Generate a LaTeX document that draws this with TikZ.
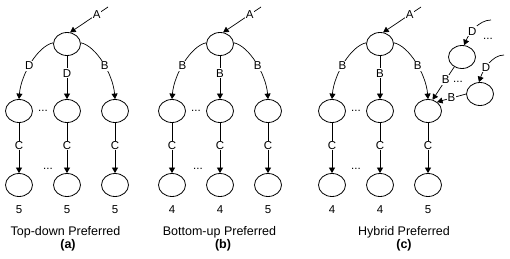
\documentclass[tikz,border=0pt]{standalone}
\usepackage{fontspec}
\setmainfont{Liberation Sans}
\usetikzlibrary{arrows.meta,shapes.geometric}
\begin{document}
\begin{tikzpicture}[x=1pt,y=-1pt,
  st/.style={draw, ellipse, minimum width=27pt, minimum height=23pt, inner sep=0pt, line width=0.8pt},
  lbl/.style={fill=white, inner sep=0.8pt, font=\fontsize{11.5}{12}\selectfont},
  edge/.style={line width=0.7pt, -{Triangle[length=5.5pt,width=6pt]}},
  txt/.style={font=\fontsize{11.5}{12}\selectfont, inner sep=0pt},
  captxt/.style={font=\fontsize{12.5}{14}\selectfont, inner sep=0pt},
  captxtb/.style={font=\fontsize{12.5}{14}\selectfont\bfseries, inner sep=0pt},
]
\useasboundingbox (0,0) rectangle (510,259);
\foreach \p/\dx/\la/\lb/\lc/\na/\nb/\nc/\dd in {a/0/D/D/B/5/5/5/48, b/153/B/B/B/4/4/5/45, c/313/B/B/B/4/4/5/43}{
  \begin{scope}[shift={(\dx,0)}]
    \node[st] (r\p) at (67,44) {};
    \node[st] (ma\p) at (19,111) {};
    \node[st] (mb\p) at (67,111) {};
    \node[st] (mc\p) at (115,111) {};
    \node[st] (ba\p) at (19,185) {};
    \node[st] (bb\p) at (67,185) {};
    \node[st] (bc\p) at (115,185) {};
    \coordinate (as\p) at (108,7);
    \draw[edge] (as\p) -- node[lbl,pos=0.3]{A} (r\p.75);
    \draw[edge] (r\p.175) .. controls +(-15,3) and +(2,-25) .. node[lbl,pos=0.55]{\la} (ma\p.north);
    \draw[edge] (r\p.south) -- node[lbl,pos=0.4]{\lb} (mb\p.north);
    \draw[edge] (r\p.5) .. controls +(15,3) and +(-2,-25) .. node[lbl,pos=0.55]{\lc} (mc\p.north);
    \draw[edge] (ma\p.south) -- node[lbl,pos=0.45]{C} (ba\p.north);
    \draw[edge] (mb\p.south) -- node[lbl,pos=0.45]{C} (bb\p.north);
    \draw[edge] (mc\p.south) -- node[lbl,pos=0.45]{C} (bc\p.north);
    \node[txt] (na\p) at (19,210) {\na};
    \node[txt] (nb\p) at (67,210) {\nb};
    \node[txt] (nc\p) at (115,210) {\nc};
    \node[txt] (da\p) at (43,111) {...};
    \node[txt] (db\p) at (\dd,169) {...};
  \end{scope}
}
% extra nodes in panel (c)
\node[st] (xa) at (462,57) {};
\node[st] (xb) at (480,94) {};
\coordinate (ds1) at (491,20);
\coordinate (ds2) at (504,55);
\draw[edge] (ds1) .. controls +(-12,0) and +(5,-12) .. node[lbl,pos=0.6]{D} (xa.80);
\draw[edge] (ds2) .. controls +(-12,0) and +(4,-12) .. node[lbl,pos=0.6]{D} (xb.95);
\node[txt] (dx1) at (488,39) {...};
\node[txt] (dx2) at (458,82) {...};
\draw[edge] (xa.232) -- node[lbl,pos=0.4]{B} (mcc.68);
\draw[edge] (xb.west) -- node[lbl,pos=0.5]{B} (mcc.45);
% captions
\node[captxt] (ca) at (65.5,232) {Top-down Preferred};
\node[captxtb] (la) at (68,245) {(a)};
\node[captxt] (cb) at (219.5,232) {Bottom-up Preferred};
\node[captxtb] (lb) at (223,245) {(b)};
\node[captxt] (cc) at (404,232) {Hybrid Preferred};
\node[captxtb] (lc) at (404,245) {(c)};
\end{tikzpicture}
\end{document}
